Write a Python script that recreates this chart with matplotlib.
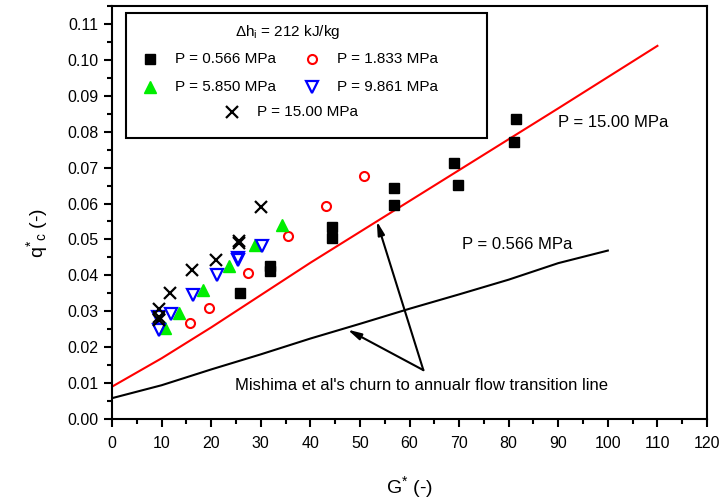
import matplotlib
matplotlib.use("Agg")
import matplotlib.pyplot as plt
from matplotlib.patches import Rectangle
from matplotlib.ticker import MultipleLocator, FormatStrFormatter

plt.rcParams['font.family'] = ['Liberation Sans', 'DejaVu Sans']
plt.rcParams['mathtext.fontset'] = 'custom'
plt.rcParams['mathtext.rm'] = 'Liberation Sans'
plt.rcParams['mathtext.default'] = 'regular'

# data
g_0566 = [25.8, 31.8, 31.8, 44.4, 44.4, 56.8, 56.8, 68.9, 69.7, 81.4, 81.0]
q_0566 = [0.0352, 0.0412, 0.0427, 0.0534, 0.0504, 0.0644, 0.0596, 0.0713, 0.0652, 0.0835, 0.0770]

g_1833 = [15.7, 19.5, 27.4, 35.5, 43.2, 50.8]
q_1833 = [0.0268, 0.0310, 0.0406, 0.0509, 0.0593, 0.0677]

g_5850 = [10.7, 13.6, 18.4, 23.6, 28.8, 34.2]
q_5850 = [0.0252, 0.0296, 0.0360, 0.0425, 0.0485, 0.0539]

g_9861 = [9.5, 9.3, 11.9, 16.4, 21.1, 25.4, 25.4, 30.3]
q_9861 = [0.0248, 0.0285, 0.0291, 0.0346, 0.0400, 0.0442, 0.0448, 0.0483]

g_1500 = [9.5, 9.5, 9.5, 11.7, 16.2, 20.9, 25.6, 25.6, 30.0]
q_1500 = [0.0306, 0.0284, 0.0275, 0.0352, 0.0416, 0.0442, 0.0490, 0.0497, 0.0590]

# Mishima et al. transition lines
g_line15 = [0, 10, 20, 30, 40, 50, 60, 70, 80, 90, 100, 110]
q_line15 = [0.0090, 0.0169, 0.0255, 0.0345, 0.0435, 0.0521, 0.0607, 0.0693, 0.0779, 0.0865, 0.0952, 0.1039]

g_line0566 = [0, 10, 20, 30, 40, 50, 60, 70, 80, 90, 100]
q_line0566 = [0.0058, 0.0094, 0.0138, 0.0180, 0.0224, 0.0265, 0.0307, 0.0347, 0.0388, 0.0434, 0.0469]

series = [
    ("P = 0.566 MPa", g_0566, q_0566, dict(marker='s', color='black', mfc='black', ms=7, mew=1)),
    ("P = 1.833 MPa", g_1833, q_1833, dict(marker='o', color='red', mfc='none', ms=6.5, mew=1.5)),
    ("P = 5.850 MPa", g_5850, q_5850, dict(marker='^', color='#00ee00', mfc='#00ee00', ms=8, mew=1)),
    ("P = 9.861 MPa", g_9861, q_9861, dict(marker='v', color='blue', mfc='none', ms=8, mew=1.6)),
    ("P = 15.00 MPa", g_1500, q_1500, dict(marker='x', color='black', ms=8, mew=1.6)),
]

fig = plt.figure(figsize=(7.2, 5.03), dpi=100)
ax = fig.add_axes([112 / 720, 84 / 503, 595 / 720, 413 / 503])

ax.plot(g_line15, q_line15, color='red', lw=1.5)
ax.plot(g_line0566, q_line0566, color='black', lw=1.5)

for name, g, q, st in series:
    ax.plot(g, q, ls='none', **st)

ax.set_xlim(0, 120)
ax.set_ylim(0, 0.115)
ax.xaxis.set_major_locator(MultipleLocator(10))
ax.xaxis.set_minor_locator(MultipleLocator(5))
ax.yaxis.set_major_locator(MultipleLocator(0.01))
ax.yaxis.set_minor_locator(MultipleLocator(0.005))
ax.yaxis.set_major_formatter(FormatStrFormatter('%.2f'))
ax.tick_params(which='major', direction='out', length=6, width=1.5, labelsize=11.5)
ax.tick_params(which='minor', direction='out', length=3.5, width=1.5)
ax.tick_params(axis='x', which='major', pad=6)
for s in ax.spines.values():
    s.set_linewidth(1.5)

ax.set_xlabel(r'G$^{*}$ (-)', fontsize=14, labelpad=17)
ax.set_ylabel(r'q$^{*}$$_{c}$ (-)', fontsize=14)
ax.yaxis.set_label_coords(-0.105, 0.45)

# hand drawn legend box like the original
ax.add_patch(Rectangle((0.023, 0.681), 0.607, 0.303, transform=ax.transAxes,
                       fill=False, ec='black', lw=1.5, zorder=5))
ax.text(0.296, 0.938, r'$\Delta$h$_{i}$ = 212 kJ/kg', transform=ax.transAxes,
        ha='center', va='center', fontsize=11)
key_pos = [(0.064, 0.106, 0.871), (0.336, 0.378, 0.871),
           (0.064, 0.106, 0.805), (0.336, 0.378, 0.805),
           (0.202, 0.243, 0.744)]
for (name, g, q, st), (mx, tx, ty) in zip(series, key_pos):
    ax.plot([mx], [ty], ls='none', transform=ax.transAxes, clip_on=False, **st)
    ax.text(tx, ty, name, transform=ax.transAxes, ha='left', va='center', fontsize=11)

ax.text(89.9, 0.0826, 'P = 15.00 MPa', ha='left', va='center', fontsize=12)
ax.text(70.5, 0.0486, 'P = 0.566 MPa', ha='left', va='center', fontsize=12)

ax.text(62.5, 0.0092, "Mishima et al's churn to annualr flow transition line",
        ha='center', va='center', fontsize=12)
arrow = dict(arrowstyle='-|>,head_length=0.8,head_width=0.2', color='black', lw=1.5,
             shrinkA=0, shrinkB=0)
ax.annotate('', xy=(53.4, 0.0551), xytext=(62.8, 0.0136), arrowprops=arrow)
ax.annotate('', xy=(47.5, 0.0249), xytext=(62.8, 0.0136), arrowprops=arrow)

fig.savefig('out.png', dpi=100)
